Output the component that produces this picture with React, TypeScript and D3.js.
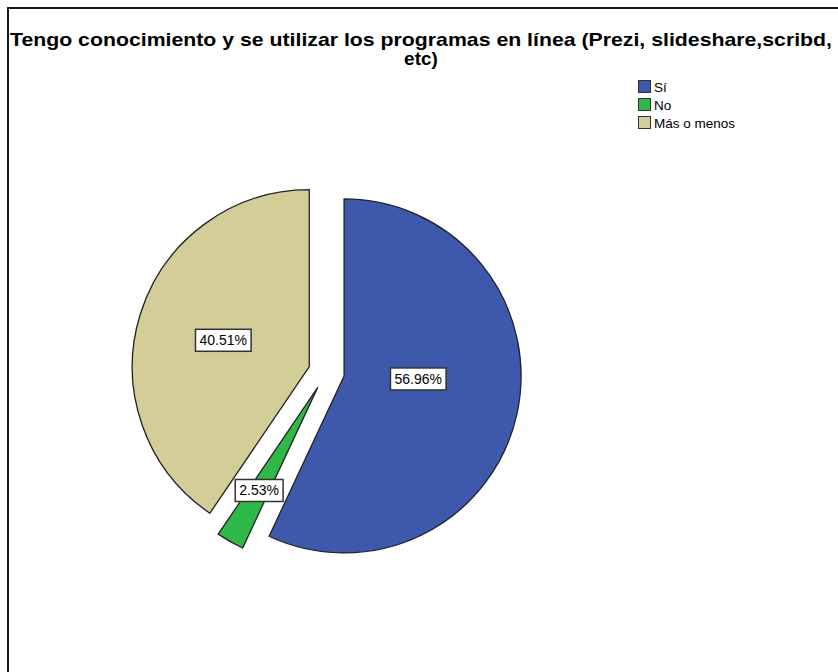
import React from "react";
import * as d3 from "d3";

const categories = ["Sí", "No", "Más o menos"];
const percentages = [56.96, 2.53, 40.51];
const colors = ["#3E58AC", "#2EB848", "#D3CE97"];
const titleLines = [
  "Tengo conocimiento y se utilizar los programas en línea (Prezi, slideshare,scribd,",
  "etc)",
];

// layout constants
const W = 838;
const H = 672;
const cx = 326.5;
const cy = 372;
const R = 177;
const explode = 18;
const labelRadiusFrac = [0.52, 0.77, 0.61];
const labelAngleShiftDeg = [-8.2, 0, 0];
const labelFont = 14;

export default function App() {
  const pie = d3
    .pie<number>()
    .sort(null)
    .value((d) => d)
    .startAngle(0)
    .endAngle(2 * Math.PI);
  const arcs = pie(percentages);
  const arc = d3.arc<d3.PieArcDatum<number>>().innerRadius(0).outerRadius(R);

  return (
    <svg
      width={W}
      height={H}
      style={{ position: "absolute", left: 0, top: 0 }}
      fontFamily="'Liberation Sans', Arial, sans-serif"
    >
      <rect x={0} y={0} width={W} height={H} fill="#fff" />
      <rect x={8} y={8} width={W + 20} height={H + 20} fill="none" stroke="#000" strokeWidth={1.8} />
      <text
        x={421}
        y={46}
        textAnchor="middle"
        fontSize={19}
        fontWeight="bold"
        textLength={822}
        lengthAdjust="spacingAndGlyphs"
      >
        {titleLines[0]}
      </text>
      <text x={421} y={65} textAnchor="middle" fontSize={19} fontWeight="bold">
        {titleLines[1]}
      </text>

      {arcs.map((a, i) => {
        const mid = (a.startAngle + a.endAngle) / 2;
        const dx = explode * Math.sin(mid);
        const dy = -explode * Math.cos(mid);
        return (
          <path
            key={i}
            d={arc(a) || ""}
            transform={`translate(${cx + dx},${cy + dy})`}
            fill={colors[i]}
            stroke="#222"
            strokeWidth={1.3}
            strokeLinejoin="round"
          />
        );
      })}

      {arcs.map((a, i) => {
        const mid = (a.startAngle + a.endAngle) / 2;
        const la = mid + (labelAngleShiftDeg[i] * Math.PI) / 180;
        const lr = labelRadiusFrac[i] * R;
        const x = cx + lr * Math.sin(la);
        const y = cy - lr * Math.cos(la);
        const txt = `${percentages[i].toFixed(2)}%`;
        const tw = txt.length * labelFont * 0.555 + 1;
        const bw = tw + 8;
        const bh = 22;
        return (
          <g key={"l" + i}>
            <rect
              x={x - bw / 2}
              y={y - bh / 2}
              width={bw}
              height={bh}
              fill="#fff"
              stroke="#333"
              strokeWidth={1.5}
            />
            <text x={x} y={y + 5} textAnchor="middle" fontSize={labelFont} fill="#000">
              {txt}
            </text>
          </g>
        );
      })}

      {categories.map((c, i) => (
        <g key={"lg" + i} transform={`translate(638,${80 + i * 18})`}>
          <rect x={0.5} y={0.5} width={12} height={12} fill={colors[i]} stroke="#333" strokeWidth={1} />
          <text x={16} y={11.5} fontSize={13.5} fill="#000">
            {c}
          </text>
        </g>
      ))}
    </svg>
  );
}
